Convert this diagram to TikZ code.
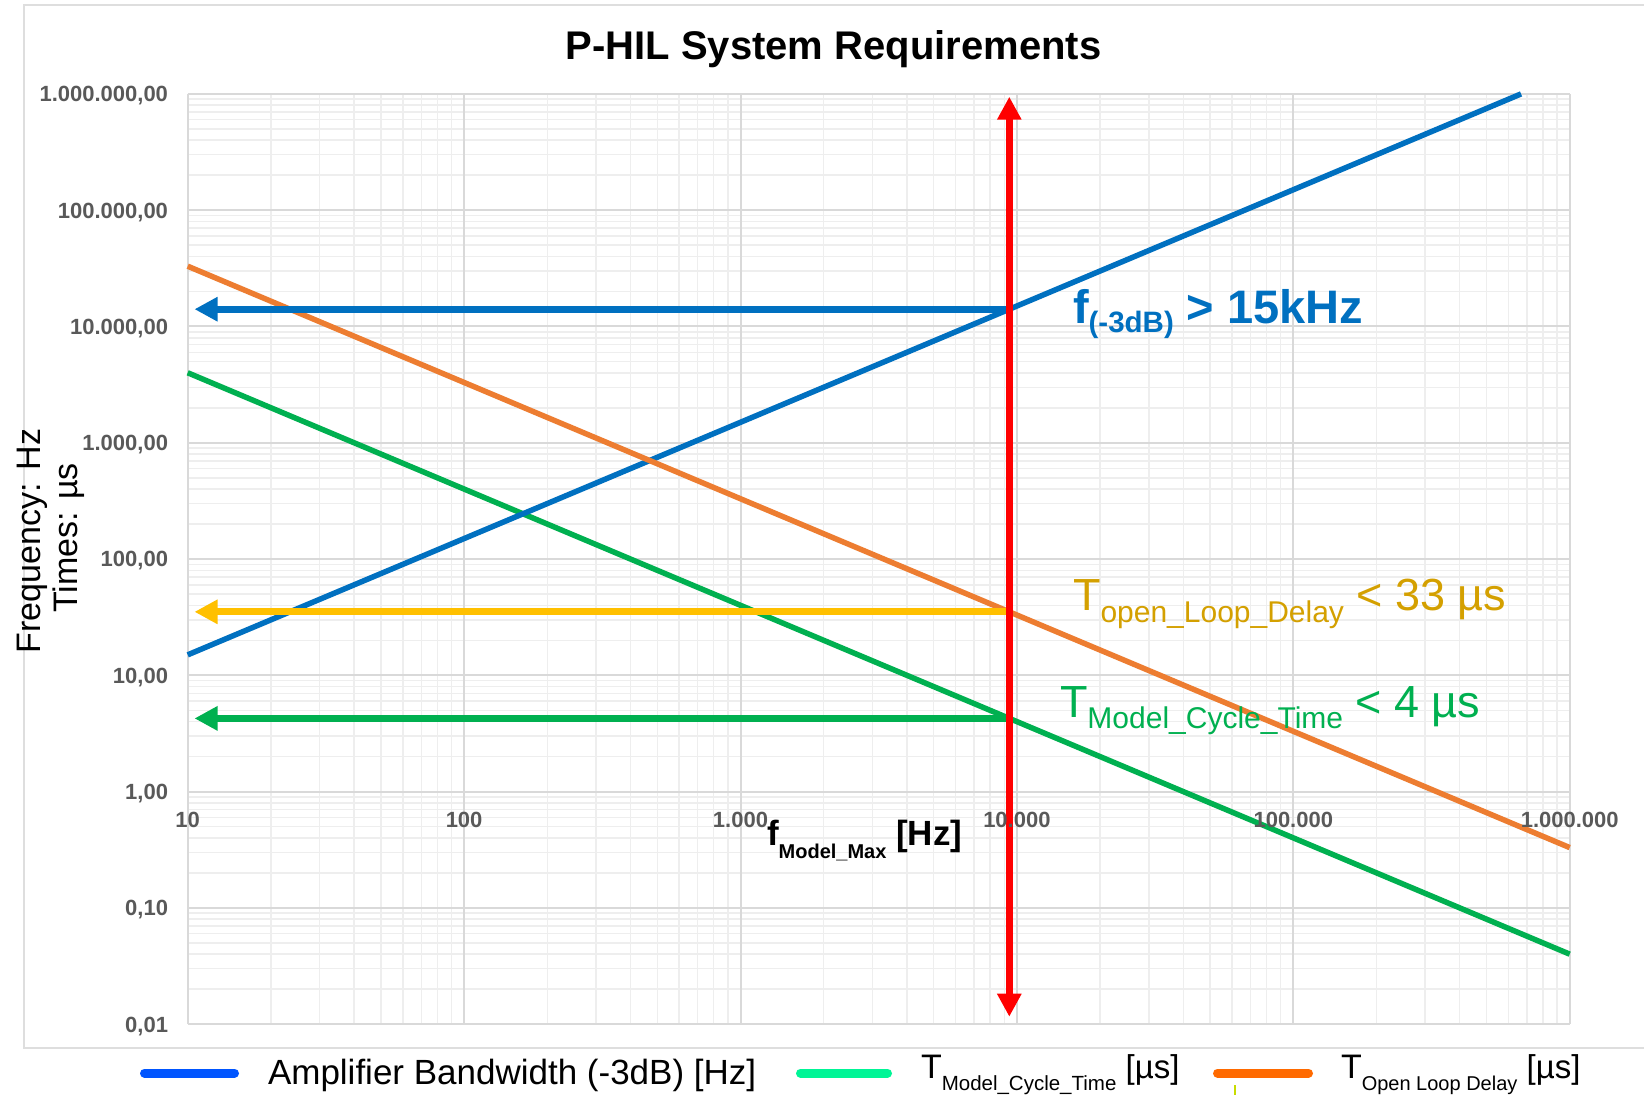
\documentclass[tikz,border=0pt]{standalone}
\usepackage{fontspec}
\setmainfont{Liberation Sans}
\usepackage{graphicx}
\usetikzlibrary{arrows.meta}

\definecolor{gridmajor}{RGB}{217,217,217}
\definecolor{gridminor}{RGB}{238,238,238}
\definecolor{framegray}{RGB}{222,222,222}
\definecolor{ticktext}{RGB}{89,89,89}
\definecolor{seriesblue}{RGB}{0,112,192}
\definecolor{seriesorange}{RGB}{237,125,49}
\definecolor{seriesgreen}{RGB}{0,176,80}
\definecolor{arrowyellow}{RGB}{255,192,0}
\definecolor{labelgold}{RGB}{212,160,0}
\definecolor{legblue}{RGB}{0,85,255}
\definecolor{legmint}{RGB}{0,245,150}
\definecolor{legorange}{RGB}{255,106,0}
\definecolor{ticklime}{RGB}{200,220,0}

\newcommand{\fs}[1]{\fontsize{#1}{#1}\selectfont}

\begin{document}
\begin{tikzpicture}[x=1pt,y=-1pt,
  every node/.style={inner sep=0pt, outer sep=0pt},
  ticklabel/.style={font={\fs{22}\bfseries}, text=ticktext},
  minorline/.style={gridminor, line width=1.5pt},
  majorline/.style={gridmajor, line width=2pt},
  seriesline/.style={line width=5.5pt},
  levelarrow/.style={line width=7pt, -{Triangle[length=23pt,width=23pt]}},
  legbar/.style={line width=9pt, line cap=round},
  legtext/.style={anchor=base west, font=\fs{35}}]

% page
\fill[white] (0,0) rectangle (1644,1095);
\useasboundingbox (0,0) rectangle (1644,1095);

% chart area frame
\draw[framegray, line width=1.5pt] (1650,5) -- (24,5) -- (24,1048) -- (1650,1048);

% title
\node[anchor=base, font={\fs{40}\bfseries}] (title) at (833.5,59.5) {P-HIL System Requirements};

% plot area: x = log10(f), y = log10(value)
\begin{scope}[xshift=-88.7pt, yshift=-791.6pt, x=276.4pt, y=116.28pt]
  % minor grid
  \foreach \d in {1,...,5}
    \foreach \k in {2,...,9}
      \draw[minorline] ({\d+log10(\k)},-2) -- ({\d+log10(\k)},6);
  \foreach \d in {-2,...,5}
    \foreach \k in {2,...,9}
      \draw[minorline] (1,{\d+log10(\k)}) -- (6,{\d+log10(\k)});
  % major grid
  \foreach \d in {1,...,6}
    \draw[majorline] (\d,-2) -- (\d,6);
  \foreach \d in {-2,...,6}
    \draw[majorline] (1,\d) -- (6,\d);

  % series end points
  \coordinate (bwA) at (1,1.17609);
  \coordinate (bwB) at (5.82391,6);
  \coordinate (oldA) at (1,4.51851);
  \coordinate (oldB) at (6,-0.48149);
  \coordinate (mctA) at (1,3.60206);
  \coordinate (mctB) at (6,-1.39794);

  % series
  \draw[seriesline, seriesgreen] (mctA) -- (mctB);
  \draw[seriesline, seriesblue] (bwA) -- (bwB);
  \draw[seriesline, seriesorange] (oldA) -- (oldB);

  % f_Model_Max marker and crossings
  \coordinate (redtop) at (3.9725,5.976);
  \coordinate (redbot) at (3.9725,-1.936);
  \coordinate (bwcross) at (3.9725,4.1486);
  \coordinate (oldcross) at (3.9725,1.5460);
  \coordinate (mctcross) at (3.9725,0.6296);
  \coordinate (bwleft) at (1.0246,4.1486);
  \coordinate (oldleft) at (1.0246,1.5460);
  \coordinate (mctleft) at (1.0246,0.6296);

  \draw[levelarrow, seriesblue] (bwcross) -- (bwleft);
  \draw[levelarrow, arrowyellow] (oldcross) -- (oldleft);
  \draw[levelarrow, seriesgreen] (mctcross) -- (mctleft);

  \draw[red, line width=7pt,
        {Triangle[length=23pt,width=23pt]}-{Triangle[length=23pt,width=23pt]}]
        (redbot) -- (redtop);
\end{scope}

% y tick labels
\node[ticklabel, anchor=base east] (ylab6) at (168,101.8) {1.000.000,00};
\node[ticklabel, anchor=base east] (ylab5) at (168,218.1) {100.000,00};
\node[ticklabel, anchor=base east] (ylab4) at (168,334.4) {10.000,00};
\node[ticklabel, anchor=base east] (ylab3) at (168,450.7) {1.000,00};
\node[ticklabel, anchor=base east] (ylab2) at (168,566.9) {100,00};
\node[ticklabel, anchor=base east] (ylab1) at (168,683.2) {10,00};
\node[ticklabel, anchor=base east] (ylab0) at (168,799.5) {1,00};
\node[ticklabel, anchor=base east] (ylabm1) at (168,915.8) {0,10};
\node[ticklabel, anchor=base east] (ylabm2) at (168,1032.1) {0,01};

% x tick labels
\node[ticklabel, anchor=base] (xlab1) at (187.7,827.4) {10};
\node[ticklabel, anchor=base] (xlab2) at (464.1,827.4) {100};
\node[ticklabel, anchor=base] (xlab3) at (740.5,827.4) {1.000};
\node[ticklabel, anchor=base] (xlab4) at (1016.9,827.4) {10.000};
\node[ticklabel, anchor=base] (xlab5) at (1293.3,827.4) {100.000};
\node[ticklabel, anchor=base] (xlab6) at (1569.7,827.4) {1.000.000};

% axis titles
\node[rotate=90, anchor=base, font=\fs{34}] (ytitleA) at (40,541) {Frequency: Hz};
\node[rotate=90, anchor=base, font=\fs{34}] (ytitleB) at (77,538) {Times: µs};
\node[anchor=base west, font=\bfseries] (xtitle) at (767,845)
  {\fs{35}f\raisebox{-13pt}{\fs{20}Model\_Max}\fs{35} [Hz]};

% requirement notes
\node[anchor=base west, text=seriesblue, font=\bfseries] (bwnote) at (1073,323)
  {\fs{47}f\raisebox{-9pt}{\fs{29.5}(-3dB)}\fs{47} > 15kHz};
\node[anchor=base west, text=labelgold] (oldnote) at (1073,610)
  {\fs{45}T\raisebox{-12pt}{\fs{30}open\_Loop\_Delay}\fs{45} < 33 µs};
\node[anchor=base west, text=seriesgreen] (mctnote) at (1060,717)
  {\fs{45}T\raisebox{-11pt}{\fs{30}Model\_Cycle\_Time}\fs{45} < 4 µs};

% legend
\coordinate (legA1) at (144.5,1073);
\coordinate (legA2) at (234.5,1073);
\coordinate (legB1) at (800.5,1073);
\coordinate (legB2) at (887.5,1073);
\coordinate (legC1) at (1217.5,1073);
\coordinate (legC2) at (1308.5,1073);
\draw[legbar, legblue] (legA1) -- (legA2);
\draw[legbar, legmint] (legB1) -- (legB2);
\draw[legbar, legorange] (legC1) -- (legC2);
\node[legtext] (legAtext) at (268,1084) {Amplifier Bandwidth (-3dB) [Hz]};
\node[anchor=base west] (legBtext) at (921,1078)
  {\fs{34}T\raisebox{-12pt}{\fs{20.5}Model\_Cycle\_Time}\fs{33} [µs]};
\node[anchor=base west] (legCtext) at (1341,1078)
  {\fs{34}T\raisebox{-12pt}{\fs{20}Open Loop Delay}\fs{33} [µs]};

% small mark below the legend
\coordinate (limeA) at (1235,1085);
\coordinate (limeB) at (1235,1095);
\draw[ticklime, line width=2pt] (limeA) -- (limeB);
\end{tikzpicture}
\end{document}
